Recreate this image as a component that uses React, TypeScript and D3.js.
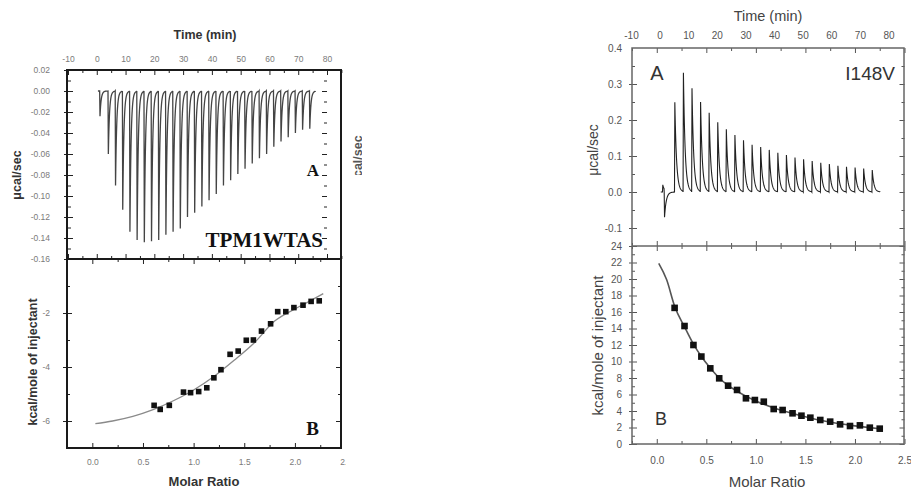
import * as d3 from "d3";
import { useEffect, useRef } from "react";

const SANS = "'Liberation Sans', Arial, sans-serif";
const SERIF = "'Liberation Serif', 'Times New Roman', serif";

// ---- left figure (TPM1WTAS): raw thermogram, exothermic peaks ----
const leftInjTimes = [
  1.0, 3.9, 6.4, 8.9, 11.4, 13.9, 16.4, 18.9, 21.4, 23.9, 26.4, 28.9, 31.4, 33.9, 36.4,
  38.9, 41.4, 43.9, 46.4, 48.9, 51.4, 53.9, 56.4, 58.9, 61.4, 63.9, 66.4, 68.9, 71.4, 73.9,
];
const leftPeaks = [
  -0.024, -0.06, -0.09, -0.113, -0.134, -0.142, -0.144, -0.143, -0.142, -0.137, -0.134,
  -0.131, -0.12, -0.116, -0.11, -0.104, -0.098, -0.09, -0.085, -0.079, -0.074, -0.069,
  -0.064, -0.06, -0.053, -0.048, -0.044, -0.04, -0.037, -0.036,
];
// integrated heats
const leftRatio = [
  0.61, 0.67, 0.76, 0.9, 0.97, 1.05, 1.13, 1.2, 1.27, 1.36, 1.44, 1.52, 1.59, 1.67, 1.76,
  1.83, 1.91, 1.99, 2.08, 2.16, 2.24,
];
const leftHeat = [
  -5.42, -5.57, -5.42, -4.93, -4.95, -4.91, -4.77, -4.4, -4.1, -3.53, -3.41, -3.01, -3.0,
  -2.67, -2.4, -1.95, -1.95, -1.8, -1.71, -1.57, -1.55,
];
const leftFitX = [0.03, 0.2, 0.4, 0.6, 0.8, 1.0, 1.2, 1.4, 1.6, 1.8, 2.0, 2.15, 2.28];
const leftFitY = [-6.1, -6.0, -5.83, -5.58, -5.25, -4.85, -4.35, -3.75, -3.1, -2.3, -1.85, -1.55, -1.28];

// ---- right figure (I148V): endothermic peaks ----
const rightInjTimes = [
  1.0, 1.6, 5.2, 8.2, 11.2, 14.2, 17.2, 20.2, 23.2, 26.2, 29.2, 32.2, 35.2, 38.2, 41.2,
  44.2, 47.2, 50.2, 53.2, 56.2, 59.2, 62.2, 65.2, 68.2, 71.2, 74.2,
];
const rightPeaks = [
  0.02, -0.07, 0.249, 0.331, 0.288, 0.25, 0.22, 0.194, 0.174, 0.158, 0.144, 0.131, 0.125,
  0.117, 0.109, 0.103, 0.096, 0.091, 0.086, 0.081, 0.078, 0.073, 0.07, 0.068, 0.065, 0.061,
];
const rightRatio = [
  0.18, 0.28, 0.37, 0.45, 0.54, 0.63, 0.72, 0.81, 0.9, 0.99, 1.08, 1.18, 1.27, 1.37, 1.46,
  1.55, 1.65, 1.75, 1.85, 1.95, 2.05, 2.15, 2.25,
];
const rightHeat = [
  16.5, 14.3, 12.0, 10.6, 9.17, 7.96, 7.07, 6.55, 5.54, 5.33, 5.13, 4.24, 4.12, 3.72, 3.43,
  3.19, 2.91, 2.71, 2.38, 2.18, 2.26, 1.98, 1.86,
];
const rightFitX = [0.02, 0.1, 0.18, 0.28, 0.37, 0.45, 0.54, 0.63, 0.72, 0.81, 0.9, 1.0, 1.2, 1.4, 1.6, 1.8, 2.0, 2.25];
const rightFitY = [21.9, 19.9, 16.7, 14.2, 12.1, 10.6, 9.2, 8.0, 7.1, 6.4, 5.8, 5.2, 4.3, 3.6, 3.0, 2.55, 2.2, 1.85];

const timeLabels = [-10, 0, 10, 20, 30, 40, 50, 60, 70, 80];
const ratioLabels = [0, 0.5, 1.0, 1.5, 2.0, 2.5];

const range = (a, b, s) => d3.range(a, b + s / 2, s).map((v) => +v.toFixed(4));

// injection trace: vertical jump to the peak, then exponential return to baseline
const thermoPoints = (times, peaks, tau, tEnd) => {
  const pts = [[times[0] - 0.6, 0]];
  times.forEach((t, i) => {
    const next = i < times.length - 1 ? times[i + 1] : tEnd;
    pts.push([t, 0]);
    pts.push([t + 0.12, peaks[i]]);
    for (let s = t + 0.22; s < next; s += 0.08) {
      pts.push([s, peaks[i] * Math.exp(-(s - t - 0.12) / tau)]);
    }
  });
  pts.push([tEnd, 0]);
  return pts;
};

const ticks = (g, x, y, o) => {
  const { xMaj, xMin, yMaj, yMin, color, out } = o;
  const [x0, x1] = x.range();
  const [y1, y0] = y.range();
  const put = (axis, tr) =>
    g
      .append("g")
      .attr("transform", tr)
      .call(axis)
      .call((s) => {
        s.select(".domain").remove();
        s.selectAll("text").remove();
        s.selectAll("line").attr("stroke", color).attr("stroke-width", 1);
      });
  const blank = () => "";
  [
    [xMaj, 5],
    [xMin, 3],
  ].forEach(([vals, len]) => {
    put(d3.axisTop(x).tickValues(vals).tickSize(-len).tickFormat(blank), `translate(0,${y0})`);
    put(d3.axisBottom(x).tickValues(vals).tickSize(-len).tickFormat(blank), `translate(0,${y1})`);
  });
  [
    [yMaj, 5],
    [yMin, 3],
  ].forEach(([vals, len]) => {
    put(d3.axisLeft(y).tickValues(vals).tickSize(-len).tickFormat(blank), `translate(${x0},0)`);
    put(d3.axisRight(y).tickValues(vals).tickSize(-len).tickFormat(blank), `translate(${x1},0)`);
  });
  put(d3.axisLeft(y).tickValues(yMaj).tickSize(out).tickFormat(blank), `translate(${x0},0)`);
};

const labels = (g, axis, tr, size, color) =>
  g
    .append("g")
    .attr("transform", tr)
    .call(axis)
    .call((s) => {
      s.select(".domain").remove();
      s.selectAll("line").remove();
      s.selectAll("text").attr("fill", color).style("font-family", SANS).style("font-size", `${size}px`);
    });

const text = (g, str, x, y, o = {}) =>
  g
    .append("text")
    .attr("x", x)
    .attr("y", y)
    .attr("text-anchor", o.anchor || "middle")
    .attr("transform", o.rotate ? `rotate(-90,${x},${y})` : null)
    .attr("fill", o.color || "#222")
    .style("font-family", o.font || SANS)
    .style("font-size", `${o.size || 12}px`)
    .style("font-weight", o.weight || "normal")
    .text(str);

const App = () => {
  const svgRef = useRef(null);

  useEffect(() => {
    const svg = d3.select(svgRef.current);
    svg.selectAll("*").remove();
    svg.append("rect").attr("width", 911).attr("height", 491).attr("fill", "#fff");

    const defs = svg.append("defs");
    defs.append("clipPath").attr("id", "clipL").append("rect").attr("x", 0).attr("y", 0).attr("width", 346).attr("height", 491);
    defs.append("clipPath").attr("id", "clipU").append("rect").attr("x", 350).attr("y", 130).attr("width", 12).attr("height", 45);

    // ================= LEFT =================
    const L = svg.append("g").attr("clip-path", "url(#clipL)");
    const lTime = d3.scaleLinear().domain([-10, 80]).range([68, 327]);
    const lRatio = d3.scaleLinear().domain([-0.25, 2.455]).range([67, 341]);
    const lPow = d3.scaleLinear().domain([-0.16, 0.02]).range([259, 70]);
    const lHeat = d3.scaleLinear().domain([-7, 0]).range([448, 259]);

    // thermogram
    const lPts = thermoPoints(leftInjTimes, leftPeaks, 0.4, 76);
    L.append("path")
      .attr("d", d3.line().x((d) => lTime(d[0])).y((d) => lPow(d[1]))(lPts))
      .attr("fill", "none")
      .attr("stroke", "#444")
      .attr("stroke-width", 1.3);

    // fit + points
    L.append("path")
      .attr(
        "d",
        d3
          .line()
          .curve(d3.curveMonotoneX)
          .x((d) => lRatio(d))
          .y((d, i) => lHeat(leftFitY[i]))(leftFitX)
      )
      .attr("fill", "none")
      .attr("stroke", "#8a8a8a")
      .attr("stroke-width", 1.3);
    L.selectAll(".lsq")
      .data(leftRatio)
      .enter()
      .append("rect")
      .attr("x", (d) => lRatio(d) - 2.8)
      .attr("y", (d, i) => lHeat(leftHeat[i]) - 2.8)
      .attr("width", 5.6)
      .attr("height", 5.6)
      .attr("fill", "#111");

    ticks(L, lTime, lPow, {
      xMaj: range(-10, 80, 10),
      xMin: range(-5, 85, 10),
      yMaj: range(-0.16, 0.02, 0.02),
      yMin: range(-0.15, 0.01, 0.02),
      color: "#222",
      out: 4,
    });
    ticks(L, lRatio, lHeat, {
      xMaj: range(0, 2, 0.5),
      xMin: range(-0.25, 2.25, 0.5),
      yMaj: range(-6, -2, 2),
      yMin: range(-7, -1, 2),
      color: "#222",
      out: 4,
    });
    L.append("rect").attr("x", 67).attr("y", 70).attr("width", 274).attr("height", 378).attr("fill", "none").attr("stroke", "#1a1a1a").attr("stroke-width", 2);
    L.append("line").attr("x1", 67).attr("x2", 341).attr("y1", 259).attr("y2", 259).attr("stroke", "#1a1a1a").attr("stroke-width", 2);

    labels(L, d3.axisTop(lTime).tickValues(timeLabels).tickSize(0).tickPadding(8).tickFormat((d) => `${d}`), "translate(0,70)", 8.5, "#7a7a7a");
    labels(L, d3.axisLeft(lPow).tickValues(range(-0.16, 0.02, 0.02)).tickSize(0).tickPadding(17).tickFormat((d) => d.toFixed(2)), "translate(67,0)", 8.5, "#7a7a7a");
    labels(L, d3.axisLeft(lHeat).tickValues([-2, -4, -6]).tickSize(0).tickPadding(17).tickFormat((d) => `${d}`), "translate(67,0)", 8.5, "#7a7a7a");
    labels(L, d3.axisBottom(lRatio).tickValues(ratioLabels).tickSize(0).tickPadding(11).tickFormat((d) => d.toFixed(1)), "translate(0,448)", 8.5, "#7a7a7a");

    text(L, "Time (min)", 205, 39, { size: 12.5, weight: "bold", color: "#333" });
    text(L, "μcal/sec", 21, 175, { size: 12.5, weight: "bold", color: "#333", rotate: true });
    text(L, "kcal/mole of injectant", 37, 362, { size: 12.5, weight: "bold", color: "#333", rotate: true });
    text(L, "Molar Ratio", 204, 486, { size: 13, weight: "bold", color: "#333" });
    text(L, "A", 313, 176, { size: 17, weight: "bold", font: SERIF, color: "#111" });
    text(L, "TPM1WTAS", 323, 246.5, { size: 21, weight: "bold", font: SERIF, color: "#111", anchor: "end" });
    text(L, "B", 312.5, 435, { size: 19, weight: "bold", font: SERIF, color: "#111" });

    // cut-off neighbouring axis label
    const U = svg.append("g").attr("clip-path", "url(#clipU)");
    text(U, "μcal/sec", 362, 160, { size: 12.5, weight: "bold", color: "#555", rotate: true });

    // ================= RIGHT =================
    const R = svg.append("g");
    const rTime = d3.scaleLinear().domain([-10, 80]).range([631, 888.5]);
    const rRatio = d3.scaleLinear().domain([-0.25, 2.5]).range([632, 904.5]);
    const rPow = d3.scaleLinear().domain([-0.15, 0.4]).range([246, 48]);
    const rHeat = d3.scaleLinear().domain([0, 24]).range([444, 246]);

    const rPts = thermoPoints(rightInjTimes, rightPeaks, 0.6, 77);
    R.append("path")
      .attr("d", d3.line().x((d) => rTime(d[0])).y((d) => rPow(d[1]))(rPts))
      .attr("fill", "none")
      .attr("stroke", "#222")
      .attr("stroke-width", 1.1);

    R.append("path")
      .attr(
        "d",
        d3
          .line()
          .curve(d3.curveMonotoneX)
          .x((d) => rRatio(d))
          .y((d, i) => rHeat(rightFitY[i]))(rightFitX)
      )
      .attr("fill", "none")
      .attr("stroke", "#555")
      .attr("stroke-width", 1.6);
    R.selectAll(".rsq")
      .data(rightRatio)
      .enter()
      .append("rect")
      .attr("x", (d) => rRatio(d) - 3.3)
      .attr("y", (d, i) => rHeat(rightHeat[i]) - 3.3)
      .attr("width", 6.6)
      .attr("height", 6.6)
      .attr("fill", "#111");

    ticks(R, rRatio, rPow, {
      xMaj: range(0, 2.5, 0.5),
      xMin: range(-0.25, 2.25, 0.5),
      yMaj: range(-0.1, 0.3, 0.1),
      yMin: range(-0.15, 0.35, 0.1),
      color: "#555",
      out: 3,
    });
    ticks(R, rRatio, rHeat, {
      xMaj: range(0, 2.5, 0.5),
      xMin: range(-0.25, 2.25, 0.5),
      yMaj: range(0, 24, 2),
      yMin: range(1, 23, 2),
      color: "#555",
      out: 3,
    });
    R.append("rect").attr("x", 632).attr("y", 48).attr("width", 272).attr("height", 396).attr("fill", "none").attr("stroke", "#666").attr("stroke-width", 1.5);
    R.append("line").attr("x1", 632).attr("x2", 904).attr("y1", 246).attr("y2", 246).attr("stroke", "#666").attr("stroke-width", 1.5);

    labels(R, d3.axisTop(rTime).tickValues(timeLabels).tickSize(0).tickPadding(9).tickFormat((d) => `${d}`), "translate(0,48)", 10, "#555");
    labels(R, d3.axisLeft(rPow).tickValues(range(-0.1, 0.4, 0.1)).tickSize(0).tickPadding(10).tickFormat((d) => d.toFixed(1)), "translate(632,0)", 10, "#555");
    labels(R, d3.axisLeft(rHeat).tickValues(range(0, 24, 2)).tickSize(0).tickPadding(10).tickFormat((d) => `${d}`), "translate(632,0)", 10, "#555");
    labels(R, d3.axisBottom(rRatio).tickValues(ratioLabels).tickSize(0).tickPadding(13).tickFormat((d) => d.toFixed(1)), "translate(0,444)", 10, "#555");

    text(R, "Time (min)", 768, 20.5, { size: 14.5, color: "#444" });
    text(R, "μcal/sec", 598, 150, { size: 14, color: "#444", rotate: true });
    text(R, "kcal/mole of injectant", 603, 345.5, { size: 15, color: "#444", rotate: true });
    text(R, "Molar Ratio", 767, 487, { size: 15, color: "#444" });
    text(R, "A", 657, 80, { size: 20, color: "#333" });
    text(R, "I148V", 895, 80, { size: 19, color: "#333", anchor: "end" });
    text(R, "B", 661, 425, { size: 18, color: "#333" });
  }, []);

  return (
    <svg
      ref={svgRef}
      width={911}
      height={491}
      style={{ position: "absolute", left: 0, top: 0, display: "block" }}
    />
  );
};

export default App;
